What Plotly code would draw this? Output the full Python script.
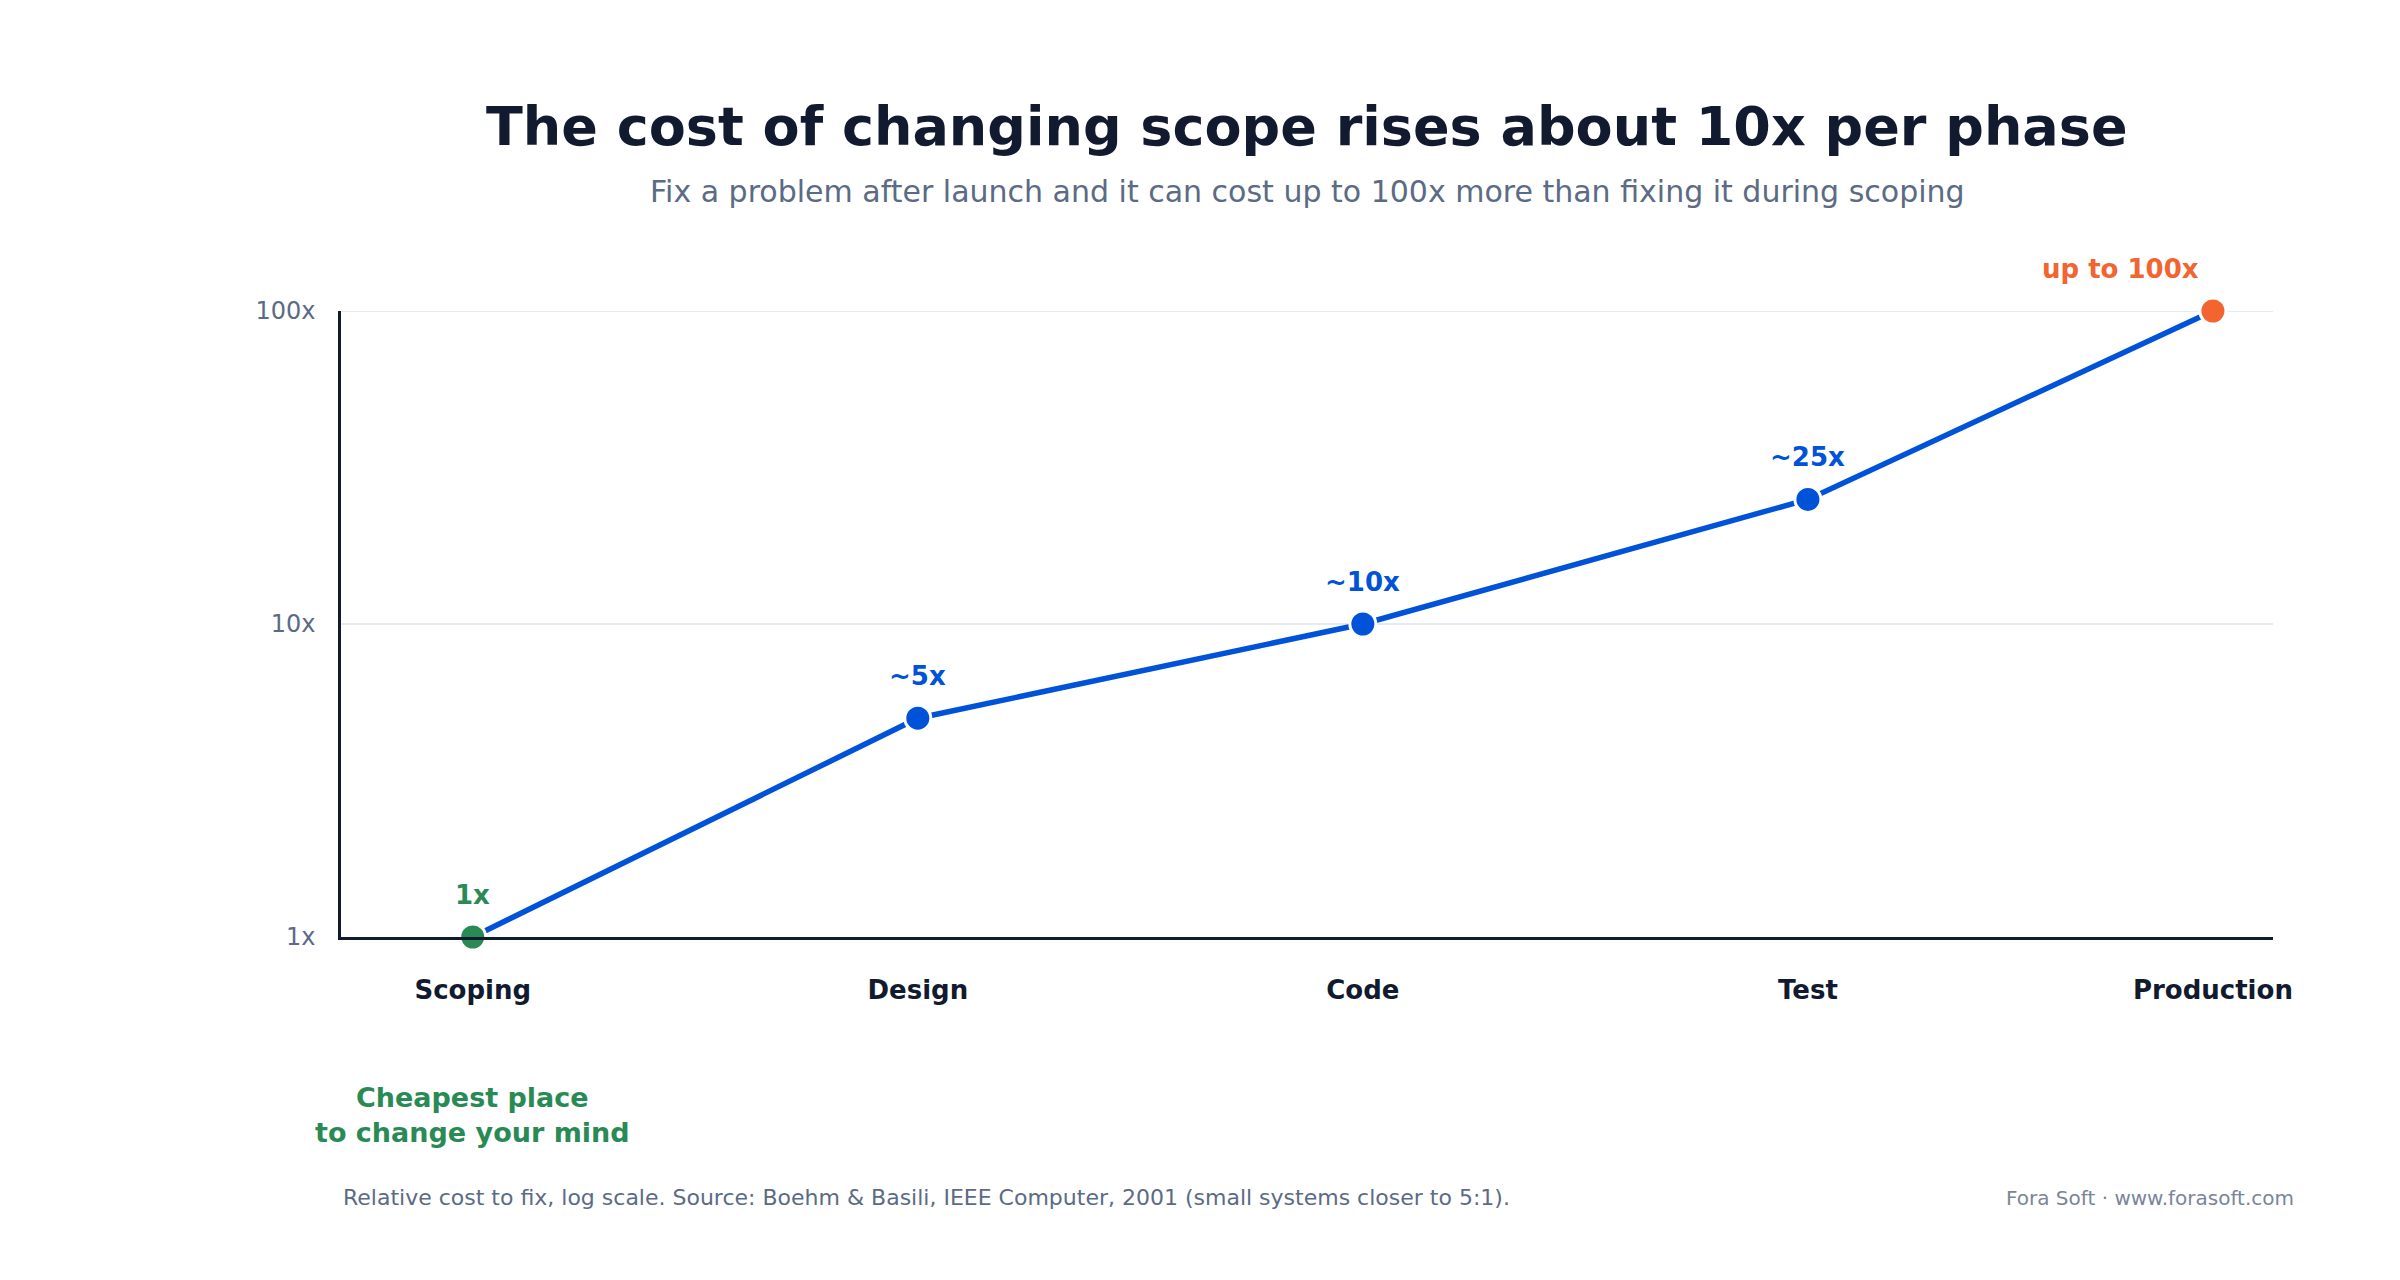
import math
import plotly.graph_objects as go

# --- data ---
phases = ["Scoping", "Design", "Code", "Test", "Production"]
phase_pos = [0, 1, 2, 3, 3.91]
relative_cost = [1, 5, 10, 25, 100]
cost_labels = ["1x", "~5x", "~10x", "~25x", "up to 100x"]
y_ticks = [1, 10, 100]
y_tick_text = ["1x", "10x", "100x"]

BLUE = "#0052d9"
GREEN = "#2a8a55"
ORANGE = "#f26430"
FONT = "DejaVu Sans"

point_colors = [GREEN, BLUE, BLUE, BLUE, ORANGE]

fig = go.Figure()
for t in y_ticks[1:]:
    fig.add_hline(y=t, line=dict(color="#dde5f2", width=1.5), layer="below")

fig.add_trace(go.Scatter(
    x=phase_pos, y=relative_cost, mode="lines+markers",
    line=dict(color=BLUE, width=5.5),
    marker=dict(size=26, color=point_colors, line=dict(color="white", width=3)),
    hoverinfo="skip", cliponaxis=False,
))

for i, (x, y, t) in enumerate(zip(phase_pos, relative_cost, cost_labels)):
    last = i == len(phases) - 1
    fig.add_annotation(
        x=x, y=math.log10(y), text=f"<b>{t}</b>", showarrow=False,
        yshift=42, xshift=-12 if last else 0, xanchor="right" if last else "center",
        font=dict(size=26, color=point_colors[i], family=FONT),
    )

fig.add_annotation(
    x=phase_pos[0], y=-0.34, yref="paper", showarrow=False,
    text="<b>Cheapest place<br>to change your mind</b>",
    font=dict(size=27, color=GREEN, family=FONT), align="center",
)
fig.add_annotation(
    x=0, y=-0.44, xref="paper", yref="paper", xanchor="left", showarrow=False,
    text="Relative cost to fix, log scale. Source: Boehm & Basili, IEEE Computer, 2001 (small systems closer to 5:1).",
    font=dict(size=22, color="#5b6b85", family=FONT),
)
fig.add_annotation(
    x=1.012, y=-0.44, xref="paper", yref="paper", xanchor="right", showarrow=False,
    text="Fora Soft · www.forasoft.com",
    font=dict(size=20, color="#7a8599", family=FONT),
)
fig.add_annotation(
    x=0.5, y=1.348, xref="paper", yref="paper", showarrow=False,
    text="<b>The cost of changing scope rises about 10x per phase</b>",
    font=dict(size=54, color="#111a2e", family=FONT),
)
fig.add_annotation(
    x=0.5, y=1.222, xref="paper", yref="paper", showarrow=False,
    text="Fix a problem after launch and it can cost up to 100x more than fixing it during scoping",
    font=dict(size=30, color="#5b6b85", family=FONT),
)

fig.update_layout(
    width=2400, height=1280,
    paper_bgcolor="white", plot_bgcolor="white",
    margin=dict(l=333, r=135, t=303, b=351),
    showlegend=False,
    font=dict(family=FONT),
)
fig.update_xaxes(
    range=[-0.296, 4.045], tickvals=phase_pos, ticktext=[f"<b>{p}</b>" for p in phases],
    tickfont=dict(size=26, color="#111a2e"), showgrid=False, zeroline=False,
    showline=True, linecolor="#111a2e", linewidth=2.5, ticks="", ticklabelstandoff=28,
)
fig.update_yaxes(
    type="log", range=[0, 2], tickvals=y_ticks, ticktext=y_tick_text,
    tickfont=dict(size=24, color="#5b6b85"), showgrid=False,
    zeroline=False, showline=True, linecolor="#111a2e", linewidth=2.5, ticks="",
    ticklabelstandoff=18,
)

fig.write_html("out.html")
